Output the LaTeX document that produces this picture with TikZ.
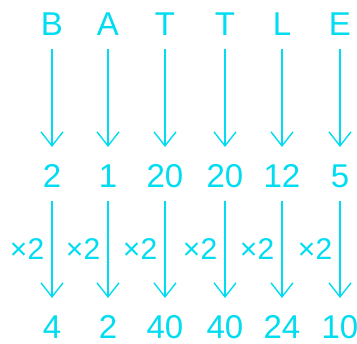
\documentclass[tikz,border=0pt]{standalone}
\usepackage{fontspec}
\setmainfont{Liberation Sans}
\usetikzlibrary{arrows.meta}
\definecolor{cy}{RGB}{0,220,240}
\begin{document}
\begin{tikzpicture}[x=1pt,y=-1pt,
  lbl/.style={text=cy,inner sep=0pt,text height=23.6pt,text depth=0pt,font=\fontsize{33}{33}\selectfont},
  mul/.style={text=cy,inner sep=0pt,font=\fontsize{30}{30}\selectfont,anchor=east,xshift=-6.5pt},
  arr/.style={draw=cy,line width=2.6pt,shorten <=13pt,shorten >=17pt,
    -{Straight Barb[length=14pt,width=22pt,line width=1.4pt]}}]
\useasboundingbox (0,0) rectangle (357,344);
\foreach \n/\x/\a/\b/\c in {1/52/B/2/4, 2/108/A/1/2, 3/165/T/20/40, 4/225/T/20/40, 5/282/L/12/24, 6/340/E/5/10}{
  \node[lbl] (l\n) at (\x,24) {\a};
  \node[lbl] (m\n) at (\x,176) {\b};
  \node[lbl] (r\n) at (\x,327) {\c};
  \draw[arr] (l\n) -- (m\n);
  \draw[arr] (m\n) -- node[mul,pos=0.48] {×2} (r\n);
}
\end{tikzpicture}
\end{document}
